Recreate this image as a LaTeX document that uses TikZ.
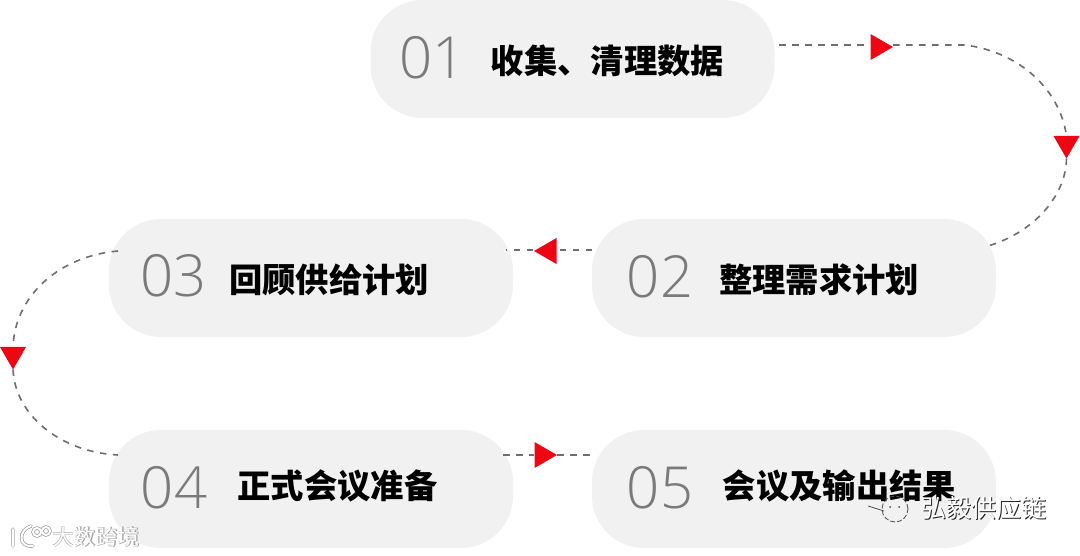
\documentclass[tikz,border=0pt]{standalone}
\usepackage{fontspec}
\usetikzlibrary{shapes.geometric}
\newfontfamily\cjkb{Noto Sans CJK SC Black}
\newfontfamily\cjkm{Noto Sans CJK SC Bold}
\newfontfamily\cjkr{Noto Sans CJK SC}
\newfontfamily\numf{Open Sans Light}
\definecolor{pill}{HTML}{F1F1F2}
\definecolor{numc}{HTML}{7A7A7A}
\definecolor{dashc}{HTML}{6E6E6E}
\definecolor{tri}{HTML}{EE0612}
\tikzset{
 x=1pt,y=-1pt,
 pillbox/.style={fill=pill,rounded corners=52pt,minimum width=404pt,minimum height=118pt,inner sep=0,outer sep=0},
 numtext/.style={font=\numf\fontsize{58}{58}\selectfont,text=numc,inner sep=0,anchor=center},
 label/.style={font=\cjkb\fontsize{33.3}{33.3}\selectfont,text=black,inner sep=0,anchor=center},
 conn/.style={draw=dashc,line width=1.6pt,dash pattern=on 6.5pt off 6.5pt},
 tripoint/.style={regular polygon,regular polygon sides=3,fill=tri,inner sep=0,outer sep=0,minimum size=30pt,shape border rotate=#1},
 wmark/.style={inner sep=0,anchor=center,text=white},
}
\begin{document}
\begin{tikzpicture}
\useasboundingbox (0,0) rectangle (1080,556);
\fill[white] (0,0) rectangle (1080,556);
% pills
\node[pillbox] (p1) at (572.5,59) {};
\node[pillbox] (p2) at (794,278) {};
\node[pillbox] (p3) at (311,278) {};
\node[pillbox] (p4) at (311,489) {};
\node[pillbox] (p5) at (794,489) {};
% numbers
\node[numtext] (n1) at (432.5,58) {01};
\node[numtext] (n2) at (660,277) {02};
\node[numtext] (n3) at (173.5,276) {03};
\node[numtext] (n4) at (174,488) {04};
\node[numtext] (n5) at (660,488) {05};
% labels
\node[label] (t1) at (607.5,61) {收集、清理数据};
\node[label] (t2) at (819,280) {整理需求计划};
\node[label] (t3) at (329,280) {回顾供给计划};
\node[label] (t4) at (337.5,486) {正式会议准备};
\node[label] (t5) at (839.5,486) {会议及输出结果};
% arrow triangles
\node[tripoint=-90] (a1) at (878,47) {};
\node[tripoint=180] (a2) at (1066.5,143.5) {};
\node[tripoint=90]  (a3) at (549,251) {};
\node[tripoint=180] (a4) at (13,354.5) {};
\node[tripoint=-90] (a5) at (542,455) {};
% free ends
\coordinate (s1) at (779,45);
\coordinate (e2) at (988,246);
\coordinate (s3) at (592,250);
\coordinate (e3) at (506,250);
\coordinate (s4) at (118,251);
\coordinate (e5) at (118,455);
\coordinate (s6) at (503,455);
\coordinate (e6) at (592,455);
% connectors
\draw[conn] (s1) -- (870,45);
\draw[conn] (893,45) -- (965,45) .. controls (1020,52) and (1060,90) .. (a2.north);
\draw[conn] (a2.south) .. controls (1066,195) and (1035,232) .. (e2);
\draw[conn] (s3) -- (558,250);
\draw[conn] (533,250) -- (e3);
\draw[conn] (s4) .. controls (60,256) and (15,295) .. (a4.north);
\draw[conn] (a4.south) .. controls (15,415) and (60,452) .. (e5);
\draw[conn] (s6) -- (534,455);
\draw[conn] (557,455) -- (e6);
% watermarks
\node[wmark,text=black!35,font=\cjkm\fontsize{22}{22}\selectfont] (w1s) at (96.5,537.5) {大数跨境};
\node[wmark,font=\cjkr\fontsize{22}{22}\selectfont] (w1) at (96,537) {大数跨境};
\draw[black!40,line width=3.4pt,line cap=round] (13,529) -- (13,546) (31,526) .. controls (18,530) and (18,548) .. (33,546) (37,532) circle (4pt) (46,531) circle (4pt);
\draw[white,line width=2pt,line cap=round] (13,529) -- (13,546) (31,526) .. controls (18,530) and (18,548) .. (33,546) (37,532) circle (4pt) (46,531) circle (4pt);
\node[wmark,text=black!85,font=\cjkr\fontsize{25}{25}\selectfont] (w2s) at (984.5,508.5) {弘毅供应链};
\node[wmark,font=\cjkr\fontsize{25}{25}\selectfont] (w2) at (983.5,507.5) {弘毅供应链};
\draw[black!70,line width=0.8pt,dash pattern=on 5pt off 2pt] (895,509) circle (13pt);
\draw[black!70,line width=0.8pt] (884,511) -- (868,506);
\fill[black!70] (890,507) circle (1pt) (899,507) circle (1pt);
\end{tikzpicture}
\end{document}
